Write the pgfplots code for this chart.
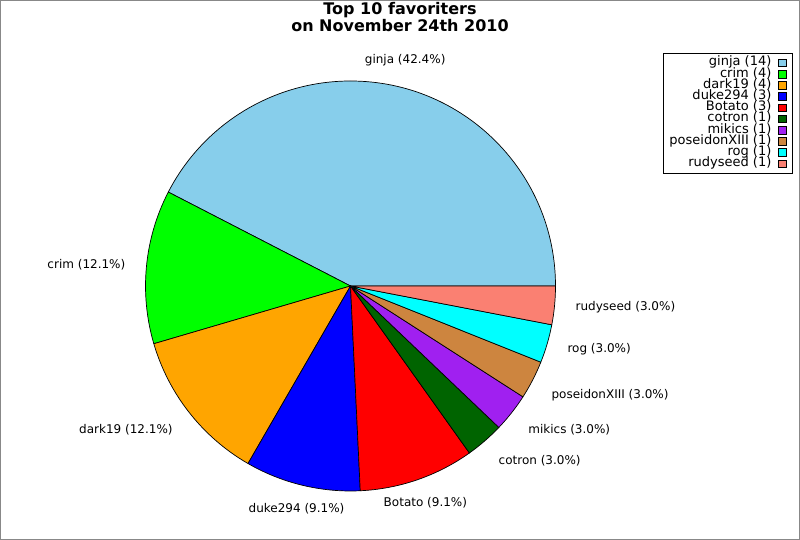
\documentclass[border=0pt]{standalone}
\usepackage{pgfplots}
\pgfplotsset{compat=1.18}
\usepackage{pgfplotstable}
\usetikzlibrary{calc}
\usepackage{fontspec}
\setmainfont{DejaVu Sans}
\definecolor{cginja}{HTML}{87CEEB}
\definecolor{ccrim}{HTML}{00FF00}
\definecolor{cdark}{HTML}{FFA500}
\definecolor{cduke}{HTML}{0000FF}
\definecolor{cbotato}{HTML}{FF0000}
\definecolor{ccotron}{HTML}{006400}
\definecolor{cmikics}{HTML}{A020F0}
\definecolor{cposeidon}{HTML}{CD853F}
\definecolor{crog}{HTML}{00FFFF}
\definecolor{crudy}{HTML}{FA8072}
\definecolor{framegray}{HTML}{888888}
% name, count, colour, label anchor, label radius (px), extra downward shift (px)
\pgfplotstableread{
name value col anc rad dy
ginja 14 cginja center 232 0
crim 4 ccrim east 226 0
dark19 4 cdark east 226 4
duke294 3 cduke center 229 0
Botato 3 cbotato center 229 0
cotron 1 ccotron west 226 4
mikics 1 cmikics west 226 4
poseidonXIII 1 cposeidon west 226 6
rog 1 crog west 226 0
rudyseed 1 crudy west 226 0
}\pietable
\newcommand\labfont{\fontsize{12}{12}\selectfont}
\newcommand\legfont{\fontsize{13}{13}\selectfont}
\begin{document}
\begin{tikzpicture}
\useasboundingbox (0,0) rectangle (800pt,540pt);
\draw[framegray, line width=1pt] (0.5pt,0.5pt) rectangle (799.5pt,539.5pt);
\begin{axis}[
  at={(0pt,0pt)}, anchor=south west,
  scale only axis, width=800pt, height=540pt,
  xmin=0, xmax=800, ymin=0, ymax=540,
  hide axis, clip=false,
  title={Top 10 favoriters\\on November 24th 2010},
  title style={at={(axis cs:400,536.5)}, anchor=north, inner sep=0pt, yshift=-5pt,
    align=center, font=\fontsize{16}{13.3}\selectfont\bfseries},
  legend plot pos=right,
  legend cell align=right,
  legend style={at={(axis cs:793,487)}, anchor=north east, draw=black,
    line width=0.8pt, font=\legfont, inner xsep=6pt, inner ysep=4pt,
    row sep=0pt, column sep=7pt,
    nodes={inner sep=0pt, text height=8.6pt, text depth=2.6pt, line width=0.6pt}},
  legend image code/.code={\draw[#1, draw=black, line width=0.6pt]
    (0pt,-3.8pt) rectangle (7.6pt,3.8pt);},
]
\pgfplotstablegetrowsof{\pietable}
\pgfmathtruncatemacro\nrows{\pgfplotsretval-1}
% total
\def\total{0}
\pgfplotsforeachungrouped \i in {0,...,\nrows}{%
  \pgfplotstablegetelem{\i}{value}\of\pietable
  \pgfmathsetmacro\total{\total+\pgfplotsretval}%
}
\def\cum{0}
\pgfplotsforeachungrouped \i in {0,...,\nrows}{%
  \pgfplotstablegetelem{\i}{value}\of\pietable \let\v\pgfplotsretval
  \pgfplotstablegetelem{\i}{col}\of\pietable \let\c\pgfplotsretval
  \pgfplotstablegetelem{\i}{name}\of\pietable \let\n\pgfplotsretval
  \pgfplotstablegetelem{\i}{anc}\of\pietable \let\an\pgfplotsretval
  \pgfplotstablegetelem{\i}{rad}\of\pietable \let\rd\pgfplotsretval
  \pgfplotstablegetelem{\i}{dy}\of\pietable \let\dy\pgfplotsretval
  \pgfmathsetmacro\a{360*\cum/\total}%
  \pgfmathsetmacro\b{360*(\cum+\v)/\total}%
  \pgfmathsetmacro\m{(\a+\b)/2}%
  \pgfmathsetmacro\pc{100*\v/\total}%
  \pgfmathprintnumberto[fixed,precision=1,fixed zerofill,assume math mode=true]{\pc}\pcs
  \edef\temp{%
    \noexpand\filldraw[fill=\c, draw=black, line width=0.7pt, line join=round]
      (axis cs:350.5,254) -- ++(\a:205pt) arc[start angle=\a, end angle=\b, radius=205pt] -- cycle;
    \noexpand\node[anchor=\an, inner sep=0pt, font=\noexpand\labfont, yshift=-\dy pt]
      at ($(axis cs:350.5,254)+(\m:\rd pt)$) {\n\space(\pcs\noexpand\%)};
    \noexpand\addlegendimage{fill=\c}
    \noexpand\addlegendentry{\n\space(\v)}
  }%
  \temp
  \pgfmathsetmacro\cum{\cum+\v}%
}
\end{axis}
\end{tikzpicture}
\end{document}
